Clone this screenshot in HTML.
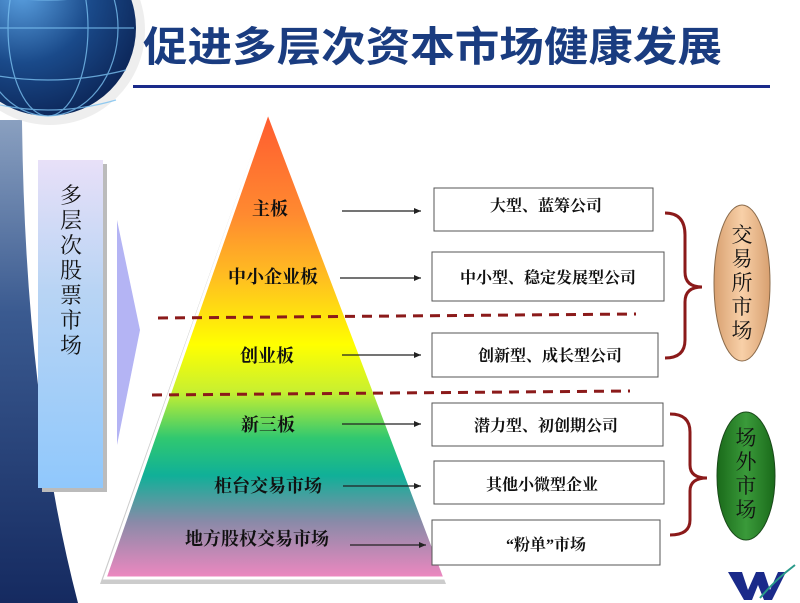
<!DOCTYPE html>
<html><head><meta charset="utf-8"><style>
body{margin:0;width:800px;height:603px;overflow:hidden;background:#fff}
svg{display:block}
text{font-family:"Liberation Serif","Noto Serif CJK SC","Noto Sans CJK SC",serif}
</style></head><body>
<svg width="800" height="603" viewBox="0 0 800 603" xmlns="http://www.w3.org/2000/svg">
<defs>
<radialGradient id="globe" cx="0.35" cy="0.3" r="0.8">
<stop offset="0" stop-color="#5aa0e0"/><stop offset="0.5" stop-color="#1a4a8a"/><stop offset="1" stop-color="#0a2050"/>
</radialGradient>
<linearGradient id="band" x1="0" y1="0" x2="0" y2="1">
<stop offset="0" stop-color="#8aa0c0"/><stop offset="0.4" stop-color="#3a5a90"/><stop offset="1" stop-color="#152a60"/>
</linearGradient>
<linearGradient id="lbox" x1="0" y1="0" x2="0" y2="1">
<stop offset="0" stop-color="#e8e0f8"/><stop offset="0.4" stop-color="#b8d4f4"/><stop offset="1" stop-color="#90c8fc"/>
</linearGradient>
<linearGradient id="pyr" x1="0" y1="112" x2="0" y2="578" gradientUnits="userSpaceOnUse">
<stop offset="0" stop-color="#ff5a30"/><stop offset="0.22" stop-color="#ff8a30"/><stop offset="0.36" stop-color="#ffc020"/>
<stop offset="0.5" stop-color="#ffff00"/><stop offset="0.6" stop-color="#c8f030"/><stop offset="0.7" stop-color="#30c870"/>
<stop offset="0.78" stop-color="#10b098"/><stop offset="0.88" stop-color="#8a8aa8"/><stop offset="1" stop-color="#ee88c0"/>
</linearGradient>
<linearGradient id="tan" x1="0" y1="0" x2="1" y2="0">
<stop offset="0" stop-color="#d8a070"/><stop offset="0.5" stop-color="#f8d0a8"/><stop offset="1" stop-color="#d8a070"/>
</linearGradient>
<linearGradient id="grn" x1="0" y1="0" x2="1" y2="0">
<stop offset="0" stop-color="#1a6a1a"/><stop offset="0.5" stop-color="#3a9a3a"/><stop offset="1" stop-color="#1a6a1a"/>
</linearGradient>
<marker id="ar" markerWidth="8" markerHeight="8" refX="7" refY="4" orient="auto" markerUnits="userSpaceOnUse"><path d="M0,1 L7,4 L0,7 z" fill="#222"/></marker>
</defs>
<path d="M0,120 L22,120 Q25,400 78,603 L0,603 z" fill="url(#band)"/>
<circle cx="50" cy="30" r="95" fill="#ddd" opacity="0.5"/>
<circle cx="48" cy="28" r="88" fill="url(#globe)"/>
<g stroke="#7ac0f0" stroke-width="1.2" fill="none" opacity="0.8">
<ellipse cx="48" cy="28" rx="40" ry="88"/><ellipse cx="48" cy="28" rx="70" ry="88"/>
<path d="M-38,28 L134,28 M-30,70 Q48,90 126,70 M-20,100 Q48,120 116,100 M-30,-10 Q48,10 126,-10"/>
</g>
<text x="143" y="61" font-size="41" font-weight="bold" fill="#1a3c80" textLength="579" lengthAdjust="spacingAndGlyphs" style="font-family:'Noto Sans CJK SC',sans-serif">促进多层次资本市场健康发展</text>
<rect x="133" y="85" width="637" height="3" fill="#1a2a8a"/>
<rect x="42" y="164" width="65" height="328" fill="#bbb"/>
<rect x="38" y="160" width="65" height="328" fill="url(#lbox)"/>
<g font-size="22" fill="#111" text-anchor="middle">
<text x="71" y="203">多</text><text x="71" y="228">层</text><text x="71" y="253">次</text><text x="71" y="278">股</text><text x="71" y="303">票</text><text x="71" y="328">市</text><text x="71" y="353">场</text>
</g>
<path d="M117,220 L140,330 L117,445 z" fill="#b4b4f4"/>
<path d="M266,114 L100,584 L446,584 z" fill="#ccc"/>
<path d="M268,112 L105,578 L445,578 z" fill="url(#pyr)" stroke="#fff" stroke-width="3"/>
<g font-size="18" fill="#111" text-anchor="middle" font-weight="bold">
<text x="270" y="215">主板</text><text x="273" y="283">中小企业板</text><text x="267" y="362">创业板</text>
<text x="268" y="431">新三板</text><text x="268" y="492">柜台交易市场</text><text x="257" y="545">地方股权交易市场</text>
</g>
<g stroke="#222" stroke-width="1.2" marker-end="url(#ar)">
<line x1="342" y1="211" x2="421" y2="211"/><line x1="340" y1="278" x2="421" y2="278"/>
<line x1="342" y1="355" x2="421" y2="355"/><line x1="342" y1="424" x2="421" y2="424"/>
<line x1="343" y1="486" x2="421" y2="486"/><line x1="350" y1="545" x2="426" y2="545"/>
</g>
<g stroke="#8b1a1a" stroke-width="3" stroke-dasharray="10 7">
<line x1="158" y1="318" x2="636" y2="314"/><line x1="152" y1="395" x2="630" y2="391"/>
</g>
<g fill="#fff" stroke="#555" stroke-width="1">
<rect x="434" y="188" width="219" height="43"/><rect x="432" y="252" width="232" height="49"/>
<rect x="432" y="333" width="226" height="44"/><rect x="432" y="403" width="231" height="43"/>
<rect x="434" y="461" width="230" height="43"/><rect x="432" y="520" width="228" height="45"/>
</g>
<g font-size="16" fill="#111" text-anchor="middle" font-weight="bold">
<text x="546" y="211">大型、蓝筹公司</text><text x="548" y="283">中小型、稳定发展型公司</text>
<text x="550" y="361">创新型、成长型公司</text><text x="546" y="431">潜力型、初创期公司</text>
<text x="542" y="490">其他小微型企业</text><text x="546" y="550">“粉单”市场</text>
</g>
<g stroke="#8b1a1a" stroke-width="3" fill="none">
<path d="M665,213 Q685,213 685,235 L685,272 Q685,287 702,287 Q685,287 685,302 L685,340 Q685,358 665,358"/>
<path d="M670,414 Q690,414 690,432 L690,465 Q690,478 707,478 Q690,478 690,491 L690,520 Q690,535 670,535"/>
</g>
<ellipse cx="742" cy="283" rx="28" ry="78" fill="url(#tan)" stroke="#8a6a4a" stroke-width="1"/>
<ellipse cx="746" cy="476" rx="29" ry="64" fill="url(#grn)" stroke="#1a4a1a" stroke-width="1"/>
<g font-size="21" fill="#111" text-anchor="middle">
<text x="742" y="242">交</text><text x="742" y="266">易</text><text x="742" y="290">所</text><text x="742" y="314">市</text><text x="742" y="338">场</text>
<text x="746" y="445">场</text><text x="746" y="469">外</text><text x="746" y="493">市</text><text x="746" y="517">场</text>
</g>
<path d="M728,572 L742,572 L748,590 L756,572 L764,572 L770,590 L778,572 L786,572 L772,600 L764,600 L758,585 L752,600 L744,600 z" fill="#1a2a8a"/>
<path d="M760,598 Q775,580 795,565" stroke="#2a9a8a" stroke-width="2" fill="none"/>
</svg>
</body></html>
